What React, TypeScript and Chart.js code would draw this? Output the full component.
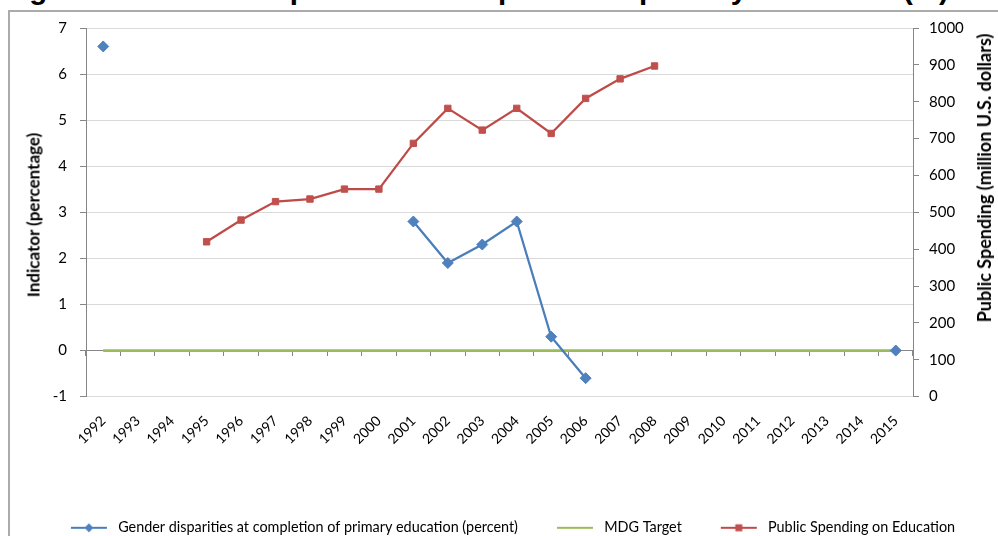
import React, { useEffect, useRef } from "react";
import { Chart, registerables } from "chart.js";

Chart.register(...registerables);

const years = [
  "1992", "1993", "1994", "1995", "1996", "1997", "1998", "1999",
  "2000", "2001", "2002", "2003", "2004", "2005", "2006", "2007",
  "2008", "2009", "2010", "2011", "2012", "2013", "2014", "2015",
];

const genderDisparities: (number | null)[] = [
  6.6, null, null, null, null, null, null, null,
  null, 2.8, 1.9, 2.3, 2.8, 0.3, -0.6, null,
  null, null, null, null, null, null, null, 0,
];

const mdgTarget: number[] = [
  0, 0, 0, 0, 0, 0, 0, 0,
  0, 0, 0, 0, 0, 0, 0, 0,
  0, 0, 0, 0, 0, 0, 0, 0,
];

const publicSpending: (number | null)[] = [
  null, null, null, 420, 479, 529, 536, 563,
  563, 687, 782, 723, 782, 714, 809, 862,
  897, null, null, null, null, null, null, null,
];

const seriesNames = [
  "Gender disparities at completion of primary education (percent)",
  "MDG Target",
  "Public Spending on Education",
];

const titleText = "Figure 5: Gender disparities at completion of primary education (%)";
const leftAxisTitle = "Indicator (percentage)";
const rightAxisTitle = "Public Spending (million U.S. dollars)";

const BLUE_LINE = "#4a7ebb";
const BLUE_MARK = "#4f81bd";
const GREEN = "#9bbb59";
const RED_LINE = "#be4b48";
const RED_MARK = "#c0504d";
const AXIS = "#868686";
const GRID = "#d9d9d9";
const FONT = "Lato, 'Open Sans', sans-serif";

function legendIcon(color: string, markColor: string, marker: "diamond" | "square" | "none") {
  const c = document.createElement("canvas");
  c.width = 44;
  c.height = 12;
  const g = c.getContext("2d")!;
  g.strokeStyle = color;
  g.lineWidth = 2;
  g.beginPath();
  g.moveTo(4, 6);
  g.lineTo(40, 6);
  g.stroke();
  g.fillStyle = markColor;
  if (marker === "diamond") {
    g.beginPath();
    g.moveTo(22, 1.5);
    g.lineTo(26.5, 6);
    g.lineTo(22, 10.5);
    g.lineTo(17.5, 6);
    g.closePath();
    g.fill();
  } else if (marker === "square") {
    g.fillRect(18.5, 2.5, 7, 7);
  }
  return c;
}

export default function App() {
  const ref = useRef<HTMLCanvasElement | null>(null);

  useEffect(() => {
    if (!ref.current) return;
    const icons = [
      legendIcon(BLUE_LINE, BLUE_MARK, "diamond"),
      legendIcon(GREEN, GREEN, "none"),
      legendIcon(RED_LINE, RED_MARK, "square"),
    ];
    const chart = new Chart(ref.current, {
      type: "line",
      data: {
        labels: years,
        datasets: [
          {
            label: seriesNames[0],
            data: genderDisparities,
            borderColor: BLUE_LINE,
            backgroundColor: BLUE_MARK,
            pointBackgroundColor: BLUE_MARK,
            pointBorderColor: BLUE_MARK,
            pointStyle: "rectRot",
            pointRadius: 5.5,
            pointBorderWidth: 1,
            borderWidth: 2.25,
            spanGaps: false,
            tension: 0,
            xAxisID: "x",
            yAxisID: "y",
          },
          {
            label: seriesNames[1],
            data: mdgTarget,
            borderColor: GREEN,
            backgroundColor: GREEN,
            pointRadius: 0,
            borderWidth: 2.75,
            tension: 0,
            xAxisID: "x",
            yAxisID: "y",
          },
          {
            label: seriesNames[2],
            data: publicSpending,
            borderColor: RED_LINE,
            backgroundColor: RED_MARK,
            pointBackgroundColor: RED_MARK,
            pointBorderColor: RED_MARK,
            pointStyle: "rect",
            pointRadius: 4.5,
            pointBorderWidth: 1,
            borderWidth: 2.25,
            spanGaps: false,
            tension: 0,
            xAxisID: "x",
            yAxisID: "y2",
          },
        ],
      },
      options: {
        responsive: false,
        animation: false,
        devicePixelRatio: 1,
        layout: { padding: { left: 24, right: 0, top: 28, bottom: 15 } },
        plugins: {
          title: { display: false },
          tooltip: { enabled: false },
          legend: {
            display: true,
            position: "bottom",
            labels: {
              usePointStyle: true,
              pointStyleWidth: 44,
              padding: 35,
              color: "#000",
              font: { family: FONT, size: 14.4 },
              generateLabels: (ch: any) =>
                ch.data.datasets.map((ds: any, i: number) => ({
                  text: ds.label,
                  fillStyle: ds.backgroundColor,
                  strokeStyle: ds.borderColor,
                  lineWidth: 0,
                  pointStyle: icons[i],
                  hidden: false,
                  datasetIndex: i,
                  fontColor: "#000",
                })),
            },
          },
        },
        scales: {
          x: {
            type: "category",
            position: "bottom",
            offset: true,
            grid: { display: false, drawTicks: false },
            border: { display: false },
            ticks: {
              autoSkip: false,
              maxRotation: 45,
              minRotation: 45,
              padding: 16,
              color: "#000",
              font: { family: FONT, size: 14 },
            },
            afterFit: (s: any) => {
              s.height = 89;
            },
          },
          x2: {
            type: "category",
            position: { y: 0 } as any,
            offset: true,
            grid: {
              offset: true,
              drawOnChartArea: false,
              drawTicks: true,
              tickLength: 5,
              tickColor: AXIS,
              color: AXIS,
            },
            border: { display: true, color: AXIS, width: 1 },
            ticks: { display: false },
          },
          y: {
            type: "linear",
            position: "left",
            min: -1,
            max: 7,
            ticks: {
              stepSize: 1,
              padding: 13,
              color: "#000",
              font: { family: FONT, size: 15 },
            },
            grid: {
              color: GRID,
              lineWidth: 1,
              tickLength: 6,
              tickColor: AXIS,
            },
            border: { display: true, color: AXIS, width: 1 },
            afterFit: (s: any) => {
              s.width = 62;
            },
          },
          y2: {
            type: "linear",
            position: "right",
            min: 0,
            max: 1000,
            ticks: {
              stepSize: 100,
              padding: 10,
              color: "#000",
              font: { family: FONT, size: 15 },
              callback: (v: any) => String(v),
            },
            grid: {
              drawOnChartArea: false,
              tickLength: 6,
              tickColor: AXIS,
              color: AXIS,
            },
            border: { display: true, color: AXIS, width: 1 },
            afterFit: (s: any) => {
              s.width = 85;
            },
          },
        },
      },
    });
    return () => chart.destroy();
  }, []);

  return (
    <div
      style={{
        position: "fixed",
        left: 0,
        top: 0,
        width: 998,
        height: 536,
        overflow: "hidden",
        background: "#fff",
      }}
    >
      <div
        style={{
          position: "absolute",
          left: 3,
          top: -26,
          fontFamily: "'Liberation Sans', Arial, sans-serif",
          fontWeight: 700,
          fontSize: 29.5,
          lineHeight: "29px",
          whiteSpace: "nowrap",
          color: "#000",
        }}
      >
        {titleText}
      </div>
      <div
        style={{
          position: "absolute",
          left: 8,
          top: 10,
          width: 1000,
          height: 600,
          border: "2px solid #ababab",
          boxSizing: "border-box",
        }}
      />
      <canvas
        ref={ref}
        width={998}
        height={560}
        style={{ position: "absolute", left: 0, top: 0, width: 998, height: 560 }}
      />
      <div
        style={{
          position: "absolute",
          left: 33,
          top: 215,
          transform: "translate(-50%, -50%) rotate(-90deg)",
          fontFamily: FONT,
          fontWeight: 700,
          fontSize: 17,
          whiteSpace: "nowrap",
          color: "#000",
        }}
      >
        {leftAxisTitle}
      </div>
      <div
        style={{
          position: "absolute",
          left: 984,
          top: 178,
          transform: "translate(-50%, -50%) rotate(-90deg)",
          fontFamily: FONT,
          fontWeight: 700,
          fontSize: 18,
          whiteSpace: "nowrap",
          color: "#000",
        }}
      >
        {rightAxisTitle}
      </div>
    </div>
  );
}
